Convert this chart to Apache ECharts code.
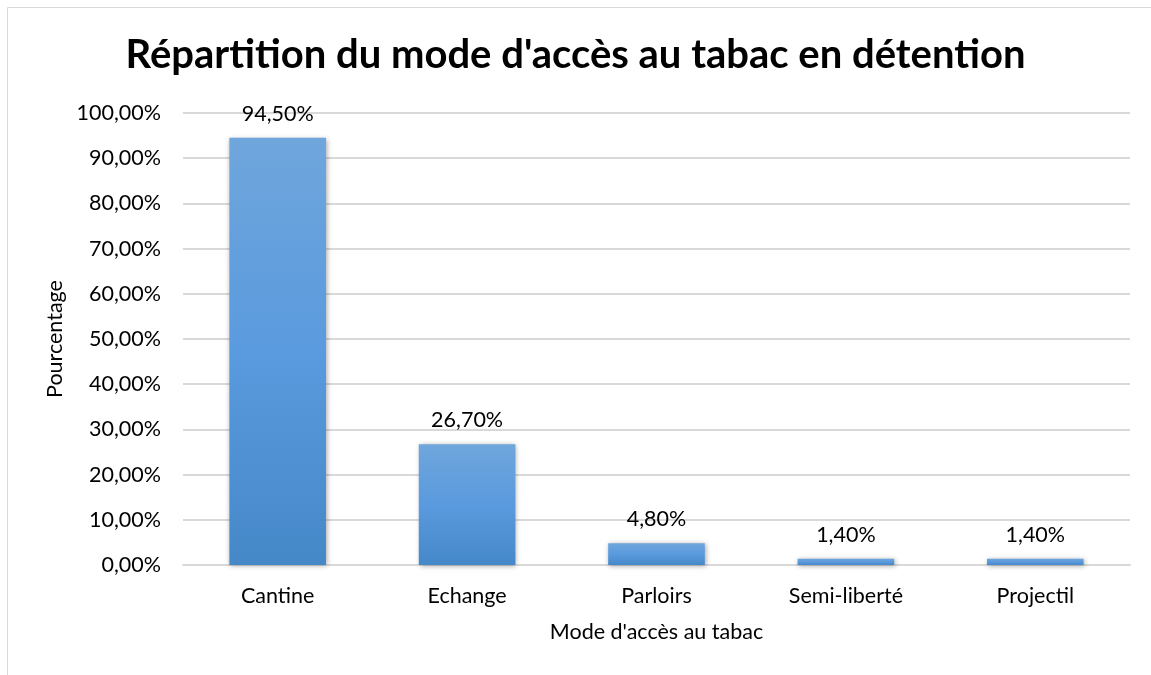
<!DOCTYPE html>
<html>
<head>
<meta charset="utf-8">
<script src="https://cdn.jsdelivr.net/npm/echarts@6/dist/echarts.min.js"></script>
<style>
  html, body { margin: 0; padding: 0; background: #fff; }
  #chart { width: 1151px; height: 675px; }
</style>
</head>
<body>
<div id="chart"></div>
<script>
// données
const categories = ['Cantine', 'Echange', 'Parloirs', 'Semi-liberté', 'Projectil']
const values = [94.5, 26.7, 4.8, 1.4, 1.4]
const titleText = "Répartition du mode d'accès au tabac en détention"
const yName = 'Pourcentage'
const xName = "Mode d'accès au tabac"

const font = 'Lato, "Open Sans", sans-serif'
const fmt = v => v.toFixed(2).replace('.', ',') + '%'

const chart = echarts.init(document.getElementById('chart'))

chart.setOption({
  animation: false,
  textStyle: { fontFamily: font },
  title: {
    text: titleText,
    left: 'center',
    top: 30,
    textStyle: { fontFamily: font, fontSize: 40, fontWeight: 'bold', color: '#000' },
  },
  graphic: [
    {
      type: 'rect',
      shape: { x: 7.5, y: 7.5, width: 1200, height: 700 },
      style: { fill: 'none', stroke: '#d9d9d9', lineWidth: 1 },
      silent: true,
    },
  ],
  grid: { left: 183, right: 21, top: 113, bottom: 110 },
  xAxis: {
    type: 'category',
    data: categories,
    name: xName,
    nameLocation: 'middle',
    nameGap: 56,
    nameTextStyle: { fontFamily: font, fontSize: 21.5, color: '#000' },
    axisLine: { lineStyle: { color: '#d9d9d9', width: 2 } },
    axisTick: { show: false },
    axisLabel: { fontFamily: font, fontSize: 21.5, color: '#000', margin: 20 },
  },
  yAxis: {
    type: 'value',
    min: 0,
    max: 100,
    interval: 10,
    name: yName,
    nameLocation: 'middle',
    nameGap: 116,
    nameTextStyle: { fontFamily: font, fontSize: 21.5, color: '#000' },
    axisLine: { show: false },
    axisTick: { show: false },
    axisLabel: { fontFamily: font, fontSize: 21.5, color: '#000', margin: 22, formatter: fmt },
    splitLine: { lineStyle: { color: '#d9d9d9', width: 2 } },
  },
  series: [
    {
      type: 'bar',
      data: values,
      barWidth: '51%',
      itemStyle: {
        color: new echarts.graphic.LinearGradient(0, 0, 0, 1, [
          { offset: 0, color: '#6fa6dc' },
          { offset: 0.5, color: '#5a9ade' },
          { offset: 1, color: '#4588c8' },
        ]),
        shadowBlur: 5,
        shadowColor: 'rgba(0,0,0,0.35)',
        shadowOffsetX: 1,
        shadowOffsetY: 1,
      },
      label: {
        show: true,
        position: 'top',
        distance: 13,
        fontFamily: font,
        fontSize: 21.5,
        color: '#000',
        formatter: p => fmt(p.value),
      },
    },
  ],
})
</script>
</body>
</html>
